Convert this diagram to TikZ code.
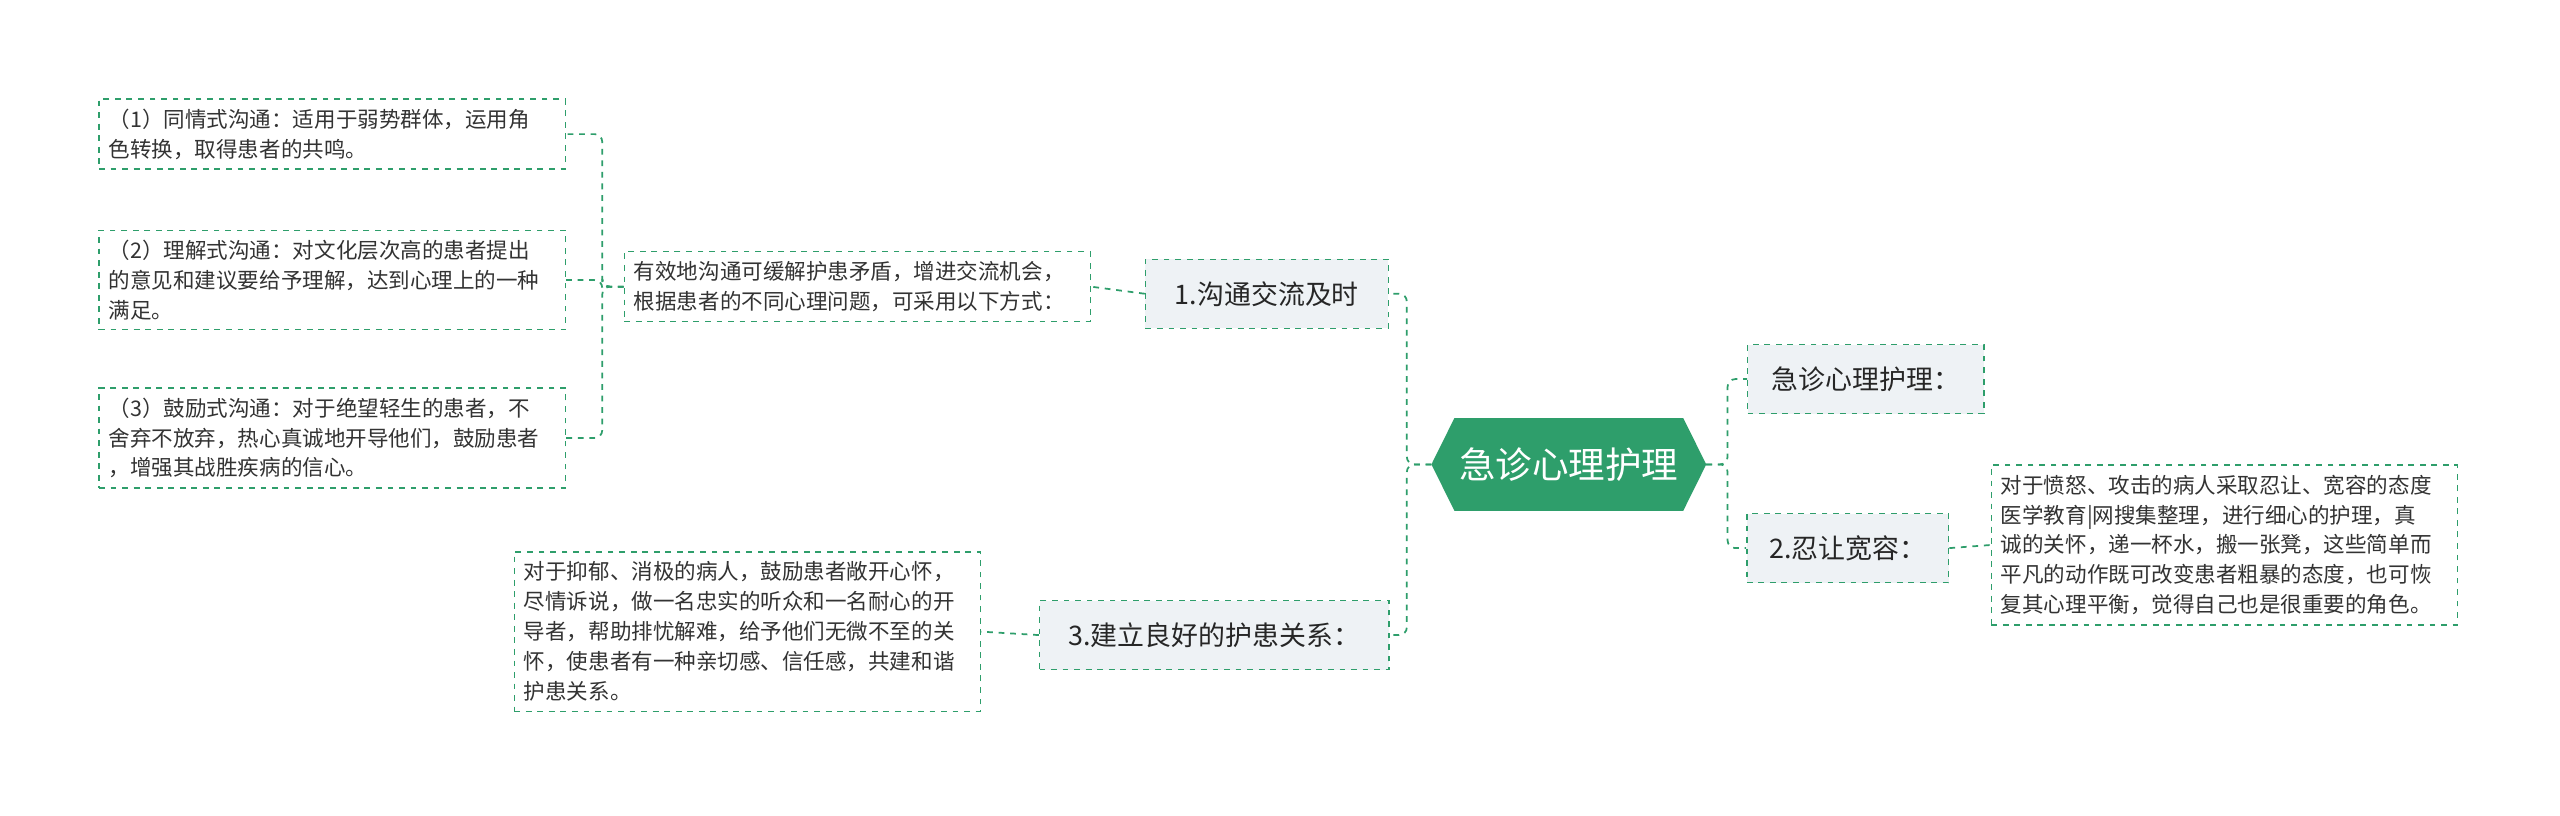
\documentclass[tikz,border=0pt]{standalone}
\usepackage{fontspec}
\setmainfont{Noto Sans CJK SC}
\usetikzlibrary{calc}
\definecolor{gr}{HTML}{2E9E6B}
\definecolor{lbg}{HTML}{EEF2F5}
\tikzset{
 conn/.style={draw=gr,dashed,line width=0.9pt,rounded corners=4},
 leaf/.style={draw=gr,dashed,line width=0.7pt,fill=white,align=left,font=\fontsize{11.2}{15.6}\selectfont,text=black!80,inner sep=5pt,anchor=north west},
 lvl/.style={draw=gr,dashed,line width=0.7pt,fill=lbg,font=\fontsize{14}{16}\selectfont,text=black!85,inner sep=4pt,minimum height=42*0.03cm}
}
\begin{document}
\begin{tikzpicture}[x=0.03cm,y=-0.03cm]
\useasboundingbox[fill=white] (0,0) rectangle (1560,497);
\node[minimum width=167*0.03cm,minimum height=56*0.03cm,inner sep=0] (c) at (956,283) {};
\fill[gr] ($(c.west)$) -- ($(c.north west)+(14,0)$) -- ($(c.north east)+(-14,0)$) -- (c.east) -- ($(c.south east)+(-14,0)$) -- ($(c.south west)+(14,0)$) -- cycle;
\node[text=white,font=\fontsize{19}{21}\selectfont] at (c) {急诊心理护理};
\node[lvl,minimum width=144*0.03cm] (r1) at (1137,231) {急诊心理护理：};
\node[lvl,minimum width=123*0.03cm] (r2) at (1126,334) {2.忍让宽容：};
\node[leaf,text width=284*0.03cm-10pt] (r2a) at (1213,283) {对于愤怒、攻击的病人采取忍让、宽容的态度\\医学教育|网搜集整理，进行细心的护理，真\\诚的关怀，递一杯水，搬一张凳，这些简单而\\平凡的动作既可改变患者粗暴的态度，也可恢\\复其心理平衡，觉得自己也是很重要的角色。};
\node[lvl,minimum width=148*0.03cm] (l1) at (772,179) {1.沟通交流及时};
\node[leaf,text width=284*0.03cm-10pt] (l1a) at (380,153) {有效地沟通可缓解护患矛盾，增进交流机会，\\根据患者的不同心理问题，可采用以下方式：};
\node[leaf,text width=284*0.03cm-10pt] (g1) at (60,60) {（1）同情式沟通：适用于弱势群体，运用角\\色转换，取得患者的共鸣。};
\node[leaf,text width=284*0.03cm-10pt] (g2) at (60,140) {（2）理解式沟通：对文化层次高的患者提出\\的意见和建议要给予理解，达到心理上的一种\\满足。};
\node[leaf,text width=284*0.03cm-10pt] (g3) at (60,236) {（3）鼓励式沟通：对于绝望轻生的患者，不\\舍弃不放弃，热心真诚地开导他们，鼓励患者\\，增强其战胜疾病的信心。};
\node[lvl,minimum width=213*0.03cm] (l3) at (740,387) {3.建立良好的护患关系：};
\node[leaf,text width=284*0.03cm-10pt] (l3a) at (313,336) {对于抑郁、消极的病人，鼓励患者敞开心怀，\\尽情诉说，做一名忠实的听众和一名耐心的开\\导者，帮助排忧解难，给予他们无微不至的关\\怀，使患者有一种亲切感、信任感，共建和谐\\护患关系。};
\draw[conn] (c.west) -- ++(-15,0) |- (l1.east);
\draw[conn] (c.west) -- ++(-15,0) |- (l3.east);
\draw[conn] (c.east) -- ++(13,0) |- (r1.west);
\draw[conn] (c.east) -- ++(13,0) |- (r2.west);
\draw[conn] (r2.east) -- (r2a.west);
\draw[conn] (l1.west) -- (l1a.east);
\draw[conn] (l3.west) -- (l3a.east);
\draw[conn] (l1a.west) -- ++(-13,0) |- (g1.east);
\draw[conn] (l1a.west) -- ++(-13,0) |- (g2.east);
\draw[conn] (l1a.west) -- ++(-13,0) |- (g3.east);
\end{tikzpicture}
\end{document}
